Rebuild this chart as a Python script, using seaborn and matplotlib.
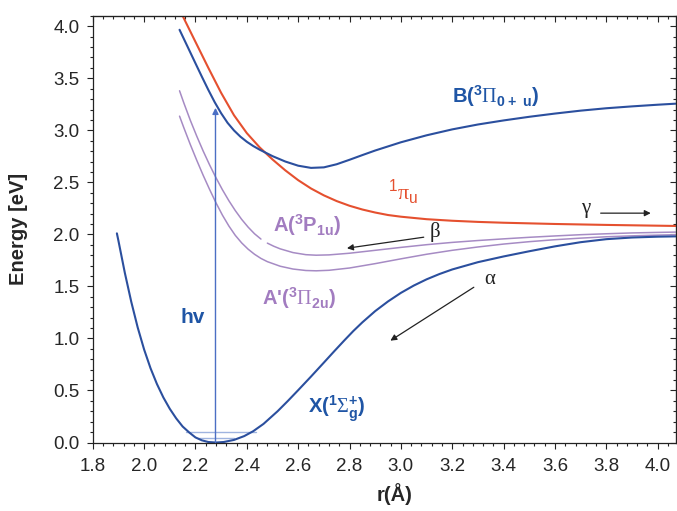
import matplotlib
matplotlib.use('Agg')
import matplotlib.pyplot as plt
import seaborn as sns
from matplotlib.ticker import MultipleLocator

# potential energy curves: r in Angstrom, energy in eV
# ground state X(1Sigma+g)
x_state_r = [1.894, 1.900, 1.925, 1.950, 1.975, 2.000, 2.025, 2.050, 2.075, 2.100,
             2.125, 2.150, 2.175, 2.200, 2.225, 2.250, 2.280, 2.310, 2.350, 2.390,
             2.425, 2.465, 2.520, 2.560, 2.600, 2.650, 2.700, 2.740, 2.780, 2.815,
             2.850, 2.900, 2.950, 3.000, 3.050, 3.100, 3.150, 3.200, 3.300, 3.400,
             3.500, 3.600, 3.700, 3.800, 3.900, 4.000, 4.070]
x_state_e = [2.010, 1.939, 1.630, 1.352, 1.106, 0.894, 0.714, 0.562, 0.433, 0.324,
             0.232, 0.154, 0.098, 0.049, 0.021, 0.005, 0.000, 0.005, 0.025, 0.062,
             0.109, 0.179, 0.301, 0.400, 0.503, 0.634, 0.768, 0.876, 0.982, 1.072,
             1.155, 1.263, 1.356, 1.438, 1.508, 1.568, 1.619, 1.663, 1.733, 1.788,
             1.838, 1.885, 1.925, 1.954, 1.970, 1.978, 1.981]

# B(3Pi 0+u)
b_state_r = [2.138, 2.170, 2.200, 2.225, 2.250, 2.275, 2.300, 2.325, 2.350, 2.375,
             2.400, 2.425, 2.450, 2.500, 2.550, 2.600, 2.650, 2.700, 2.750, 2.800,
             2.850, 2.900, 3.000, 3.100, 3.200, 3.300, 3.400, 3.500, 3.600, 3.700,
             3.800, 3.900, 4.000, 4.070]
b_state_e = [3.966, 3.800, 3.644, 3.515, 3.389, 3.270, 3.164, 3.072, 2.999, 2.939,
             2.890, 2.849, 2.814, 2.752, 2.700, 2.660, 2.639, 2.644, 2.674, 2.717,
             2.762, 2.806, 2.885, 2.952, 3.009, 3.056, 3.095, 3.130, 3.161, 3.189,
             3.212, 3.230, 3.246, 3.256]

# 1 pi_u
pi_u_r = [2.150, 2.200, 2.250, 2.300, 2.350, 2.400, 2.450, 2.500, 2.550, 2.600,
          2.650, 2.700, 2.750, 2.800, 2.850, 2.900, 2.950, 3.000, 3.100, 3.200,
          3.300, 3.400, 3.600, 3.800, 4.070]
pi_u_e = [4.100, 3.850, 3.601, 3.360, 3.145, 2.973, 2.836, 2.720, 2.615, 2.521,
          2.441, 2.375, 2.320, 2.275, 2.239, 2.210, 2.186, 2.170, 2.146, 2.131,
          2.120, 2.112, 2.100, 2.091, 2.081]

# A(3P1u)
a_state_r = [2.138, 2.155, 2.180, 2.205, 2.230, 2.255, 2.280, 2.305, 2.330, 2.355,
             2.380, 2.405, 2.430, 2.455, 2.480, 2.505, 2.530, 2.580, 2.630, 2.670,
             2.720, 2.800, 2.900, 3.000, 3.100, 3.200, 3.300, 3.400, 3.500, 3.600,
             3.700, 3.800, 3.900, 4.000, 4.070]
a_state_e = [3.380, 3.261, 3.096, 2.944, 2.801, 2.668, 2.544, 2.429, 2.324, 2.229,
             2.144, 2.070, 2.006, 1.955, 1.916, 1.886, 1.861, 1.825, 1.805, 1.800,
             1.803, 1.819, 1.847, 1.875, 1.901, 1.923, 1.941, 1.957, 1.972, 1.985,
             1.997, 2.006, 2.014, 2.019, 2.022]

# A'(3Pi2u)
a_prime_r = [2.138, 2.155, 2.180, 2.205, 2.230, 2.255, 2.280, 2.305, 2.330, 2.355,
             2.380, 2.405, 2.430, 2.455, 2.480, 2.530, 2.580, 2.630, 2.670, 2.720,
             2.800, 2.900, 3.000, 3.100, 3.200, 3.300, 3.400, 3.500, 3.600, 3.700,
             3.800, 3.900, 4.000, 4.070]
a_prime_e = [3.136, 3.023, 2.863, 2.712, 2.568, 2.432, 2.303, 2.185, 2.081, 1.991,
             1.918, 1.858, 1.809, 1.769, 1.738, 1.694, 1.667, 1.653, 1.650, 1.655,
             1.677, 1.719, 1.765, 1.809, 1.847, 1.879, 1.907, 1.930, 1.949, 1.964,
             1.977, 1.986, 1.993, 1.997]

# vibrational levels of X
level_e = [0.040, 0.104]
level_r_left = [2.210, 2.165]
level_r_right = [2.350, 2.435]

# photon excitation
hv_r = 2.278
hv_top = 3.216

sns.set_style('ticks')
plt.rcParams['font.family'] = ['Liberation Sans', 'DejaVu Sans']
plt.rcParams['mathtext.fontset'] = 'custom'
plt.rcParams['mathtext.rm'] = 'Liberation Serif'
plt.rcParams['mathtext.bf'] = 'Liberation Sans:bold'
plt.rcParams['mathtext.sf'] = 'Liberation Sans'

blue = '#2b4f9e'
red = '#e5502f'
purple = '#a68bc4'
text_blue = '#1f55a5'
text_purple = '#a27cc0'

fig = plt.figure(figsize=(6.77, 5.11), dpi=100)
ax = fig.add_axes([0.137, 0.134, 0.861, 0.835])

for lo, r0, r1 in zip(level_e, level_r_left, level_r_right):
    ax.plot([r0, r1], [lo, lo], color='#9fb4e0', lw=1.0)

# upper A curve has a small break next to its label
cut = 14
curves = [
    (a_state_r[:cut], a_state_e[:cut], purple, 1.1),
    (a_state_r[cut:], a_state_e[cut:], purple, 1.1),
    (a_prime_r, a_prime_e, purple, 1.1),
    (pi_u_r, pi_u_e, red, 1.5),
    (b_state_r, b_state_e, blue, 1.5),
    (x_state_r, x_state_e, blue, 1.5),
]
for r, e, c, lw in curves:
    sns.lineplot(x=r, y=e, ax=ax, color=c, linewidth=lw, estimator=None, sort=False)

# hv arrow
ax.annotate('', xy=(hv_r, hv_top), xytext=(hv_r, 0),
            arrowprops=dict(arrowstyle='-|>', color='#4b6fc4', lw=1.0,
                            mutation_scale=9, shrinkA=0, shrinkB=0))

# dissociation channel arrows
arrow_kw = dict(arrowstyle='-|>', color='#222222', lw=0.9, mutation_scale=9, shrinkA=0, shrinkB=0)
ax.annotate('', xy=(2.959, 0.979), xytext=(3.284, 1.492), arrowprops=arrow_kw)
ax.annotate('', xy=(2.790, 1.867), xytext=(3.089, 1.973), arrowprops=arrow_kw)
ax.annotate('', xy=(3.973, 2.204), xytext=(3.778, 2.204), arrowprops=arrow_kw)

greek = dict(family='Liberation Serif', fontsize=15, color='#222222', ha='center', va='center')
ax.text(3.345, 1.563, 'α', **greek)
ax.text(3.134, 2.027, 'β', **greek)
ax.text(3.720, 2.245, 'γ', **greek)

# state labels
ax.text(3.199, 3.261, r'B($^{\mathbf{3}}\mathrm{\Pi}_{\mathbf{0+\ u}}$)', color=text_blue,
        fontsize=14.5, fontweight='bold', va='baseline')
ax.text(2.950, 2.330, r'$^{\mathsf{1}}\mathrm{\pi}_{\mathsf{u}}$', color=red,
        fontsize=16, va='baseline')
ax.text(2.503, 2.021, r'A($^{\mathbf{3}}\mathbf{P}_{\mathbf{1u}}$)', color=text_purple,
        fontsize=14.5, fontweight='bold', va='baseline')
ax.text(2.459, 1.322, r"A'($^{\mathbf{3}}\mathrm{\Pi}_{\mathbf{2u}}$)", color=text_purple,
        fontsize=14.5, fontweight='bold', va='baseline')
ax.text(2.640, 0.281, r'X($^{\mathbf{1}}\mathrm{\Sigma}_{\mathbf{g}}^{\mathbf{+}}$)', color=text_blue,
        fontsize=14.5, fontweight='bold', va='baseline')
ax.text(2.141, 1.146, 'hv', color=text_blue, fontsize=15, fontweight='bold', va='baseline')

ax.set_xlim(1.8, 4.07)
ax.set_ylim(0, 4.1)
ax.xaxis.set_major_locator(MultipleLocator(0.2))
ax.xaxis.set_minor_locator(MultipleLocator(0.04))
ax.yaxis.set_major_locator(MultipleLocator(0.5))
ax.yaxis.set_minor_locator(MultipleLocator(0.1))
ax.tick_params(which='major', direction='out', length=4.5, width=0.8, labelsize=13.5, color='#222222')
ax.tick_params(which='minor', direction='out', length=2.5, width=0.8, color='#222222')
ax.tick_params(axis='x', which='major', pad=7)
ax.tick_params(axis='y', which='major', pad=5)

# mirrored axes with inward ticks
top = ax.secondary_xaxis('top')
top.xaxis.set_major_locator(MultipleLocator(0.2))
top.xaxis.set_minor_locator(MultipleLocator(0.04))
top.tick_params(which='major', direction='in', length=4.5, width=0.8, labeltop=False)
top.tick_params(which='minor', direction='in', length=2.5, width=0.8)
right = ax.secondary_yaxis('right')
right.yaxis.set_major_locator(MultipleLocator(0.5))
right.yaxis.set_minor_locator(MultipleLocator(0.1))
right.tick_params(which='major', direction='in', length=4.5, width=0.8, labelright=False)
right.tick_params(which='minor', direction='in', length=2.5, width=0.8)

for s in ax.spines.values():
    s.set_linewidth(0.9)
    s.set_color('#222222')

ax.set_ylabel('Energy [eV]', fontsize=14.5, fontweight='bold')
ax.yaxis.set_label_coords(-0.111, 0.5)
ax.set_xlabel('r(Å)', fontsize=14.5, fontweight='bold')
ax.xaxis.set_label_coords(0.517, -0.095)

fig.savefig('out.png', dpi=100)
